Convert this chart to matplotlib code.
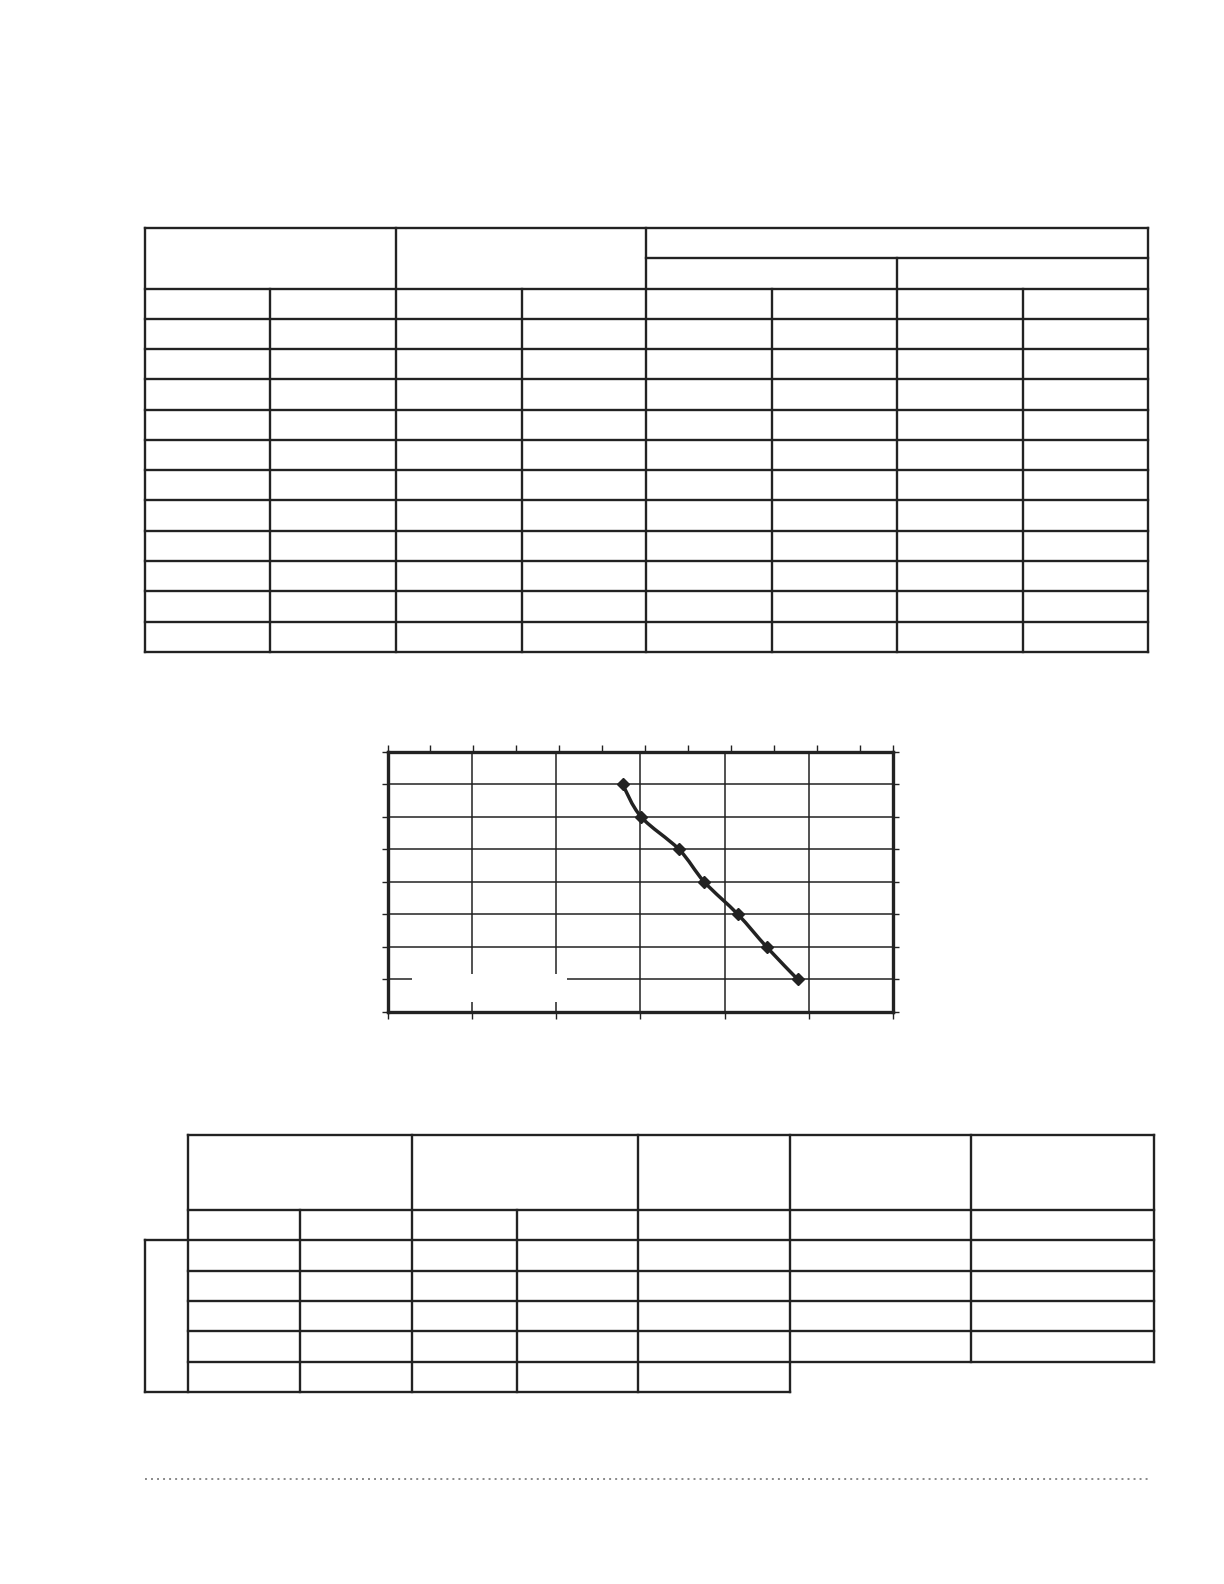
import numpy as np
import matplotlib
matplotlib.use("Agg")
import matplotlib.pyplot as plt
from matplotlib.collections import LineCollection
from matplotlib.path import Path
from matplotlib.patches import PathPatch, Rectangle

# curve (grid units)
x_vals = [2.79, 3.01, 3.46, 3.76, 4.16, 4.50, 4.87]
y_vals = [7, 6, 5, 4, 3, 2, 1]

# page layout in pixels (1224 x 1584)
W, H = 1224, 1584
ink = "#222222"

top_cols = [145, 270, 396, 522, 646, 772, 897, 1023, 1148]
top_y0, top_pitch, top_nrows = 228, 30.27, 14

bot_cols = [188, 300, 412, 517, 638, 790, 971, 1154]
bot_rows = [1135, 1210, 1240, 1270.5, 1301, 1331, 1361.5, 1391.5]
bot_left = 145

fig = plt.figure(figsize=(W / 100, H / 100), dpi=100)

# overlay axes in pixel space for the tables
page = fig.add_axes([0, 0, 1, 1])
page.set_xlim(0, W)
page.set_ylim(H, 0)
page.axis("off")

segs = []
# top table
ty = [top_y0 + k * top_pitch for k in range(top_nrows + 1)]
segs.append([(top_cols[0], ty[0]), (top_cols[-1], ty[0])])
segs.append([(top_cols[4], ty[1]), (top_cols[-1], ty[1])])
for y in ty[2:]:
    segs.append([(top_cols[0], y), (top_cols[-1], y)])
for i in (0, 2, 4, 8):
    segs.append([(top_cols[i], ty[0]), (top_cols[i], ty[-1])])
segs.append([(top_cols[6], ty[1]), (top_cols[6], ty[-1])])
for i in (1, 3, 5, 7):
    segs.append([(top_cols[i], ty[2]), (top_cols[i], ty[-1])])

# bottom table
segs.append([(bot_cols[0], bot_rows[0]), (bot_cols[-1], bot_rows[0])])
segs.append([(bot_cols[0], bot_rows[1]), (bot_cols[-1], bot_rows[1])])
segs.append([(bot_left, bot_rows[2]), (bot_cols[-1], bot_rows[2])])
for y in bot_rows[3:7]:
    segs.append([(bot_cols[0], y), (bot_cols[-1], y)])
segs.append([(bot_left, bot_rows[7]), (bot_cols[5], bot_rows[7])])
segs.append([(bot_left, bot_rows[2]), (bot_left, bot_rows[7])])
for i in (0, 2, 4):
    segs.append([(bot_cols[i], bot_rows[0]), (bot_cols[i], bot_rows[7])])
for i in (1, 3):
    segs.append([(bot_cols[i], bot_rows[1]), (bot_cols[i], bot_rows[7])])
segs.append([(bot_cols[5], bot_rows[0]), (bot_cols[5], bot_rows[7])])
for i in (6, 7):
    segs.append([(bot_cols[i], bot_rows[0]), (bot_cols[i], bot_rows[6])])

page.add_collection(LineCollection(segs, colors=ink, linewidths=1.7,
                                   capstyle="projecting"))

# dotted rule at page foot
page.plot([145, 1150], [1479, 1479], color="#888888", lw=1.4,
          linestyle=(0, (1, 2.1)))

# chart
ax = fig.add_axes([387.5 / W, 1 - 1012 / H, 505.5 / W, 260.2 / H])
ax.set_xlim(0, 6)
ax.set_ylim(0, 8)
ax.set_xticks(range(7))
ax.set_yticks(range(9))
ax.grid(True, color=ink, lw=1.1)
ax.set_axisbelow(True)
ax.tick_params(axis="x", direction="out", length=5, width=1.0, color=ink,
               labelbottom=False)
ax.tick_params(axis="y", direction="out", length=4, width=1.0, color=ink,
               left=True, right=True, labelleft=False)
for s in ax.spines.values():
    s.set_linewidth(2.4)
    s.set_color(ink)

# white legend box hiding part of the grid
ax.add_patch(Rectangle((0.049, 0.04), 0.307, 0.105, transform=ax.transAxes,
                       facecolor="white", edgecolor="none", zorder=1.5))

# smoothed line (Catmull-Rom as cubic Bezier)
pts = np.column_stack([x_vals, y_vals])
ext = np.vstack([pts[0], pts, pts[-1]])
verts = [tuple(pts[0])]
codes = [Path.MOVETO]
for i in range(1, len(ext) - 2):
    p0, p1, p2, p3 = ext[i - 1], ext[i], ext[i + 1], ext[i + 2]
    c1 = p1 + (p2 - p0) / 6
    c2 = p2 - (p3 - p1) / 6
    verts += [tuple(c1), tuple(c2), tuple(p2)]
    codes += [Path.CURVE4] * 3
ax.add_patch(PathPatch(Path(verts, codes), facecolor="none", edgecolor=ink,
                       lw=2.5, zorder=3))
ax.plot(x_vals, y_vals, linestyle="none", marker="D", markersize=6.5,
        color=ink, zorder=4)

# secondary top scale ticks
top = ax.twiny()
top.set_xlim(0, 5.88)
top.set_xticks(list(np.arange(0, 5.6, 0.5)) + [5.88])
top.tick_params(axis="x", direction="out", length=5, width=1.0, color=ink,
                labeltop=False)
for s in top.spines.values():
    s.set_visible(False)

fig.savefig("out.png", dpi=100)
plt.close(fig)
